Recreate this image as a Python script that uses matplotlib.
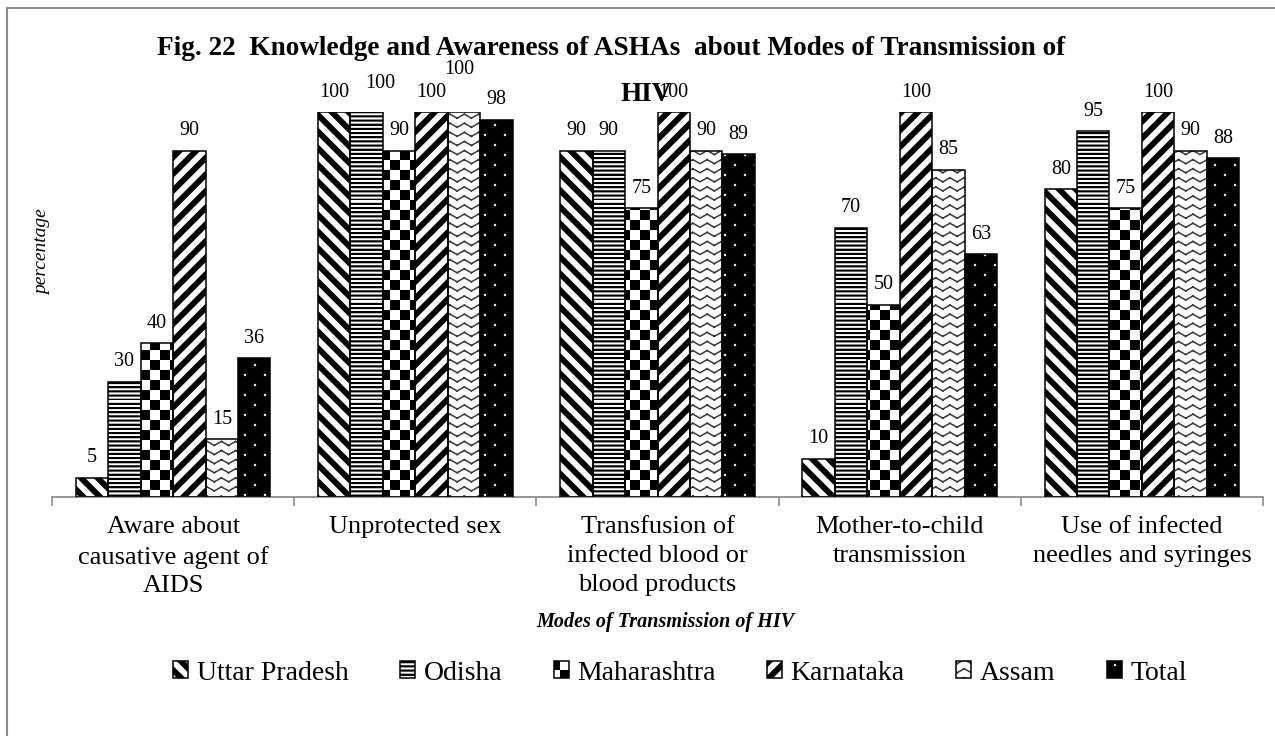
import warnings
import numpy as np
import matplotlib
matplotlib.use("Agg")
import matplotlib.pyplot as plt
import matplotlib.hatch as mhatch
from matplotlib.path import Path
from matplotlib.lines import Line2D
from matplotlib.legend_handler import HandlerTuple

warnings.filterwarnings("ignore")

# ---------------- data ----------------
categories = ["Aware about\ncausative agent of\nAIDS",
              "Unprotected sex",
              "Transfusion of\ninfected blood or\nblood products",
              "Mother-to-child\ntransmission",
              "Use of infected\nneedles and syringes"]
states = ["Uttar Pradesh", "Odisha", "Maharashtra", "Karnataka", "Assam", "Total"]
uttar_pradesh = [5, 100, 90, 10, 80]
odisha = [30, 100, 90, 70, 95]
maharashtra = [40, 90, 75, 50, 75]
karnataka = [90, 100, 100, 100, 100]
assam = [15, 100, 90, 85, 90]
total = [36, 98, 89, 63, 88]
series = [uttar_pradesh, odisha, maharashtra, karnataka, assam, total]

title_line1 = "Fig. 22  Knowledge and Awareness of ASHAs  about Modes of Transmission of"
title_line2 = "HIV"
xlabel = "Modes of Transmission of HIV"
ylabel = "percentage"

# ---------------- custom hatch patterns ----------------
DPI = 100
HLW = 1.1
plt.rcParams["hatch.linewidth"] = HLW
_half = HLW * DPI / 72.0 / 2.0 / DPI  # half stroke width in hatch-cell units


class _ShapeHatch(mhatch.HatchPatternBase):
    char = "?"

    def __init__(self, hatch, density):
        self.items = self.build() if (hatch and self.char in hatch) else []
        self.num_vertices = sum(len(p) + (1 if closed else 0) for p, closed in self.items)

    def build(self):
        return []

    def set_vertices_and_codes(self, vertices, codes):
        i = 0
        for pts, closed in self.items:
            k = len(pts)
            vertices[i:i + k] = pts
            codes[i] = Path.MOVETO
            codes[i + 1:i + k] = Path.LINETO
            i += k
            if closed:
                vertices[i] = pts[0]
                codes[i] = Path.CLOSEPOLY
                i += 1


class ThickNE(_ShapeHatch):          # '/' thick stripes
    char = "d"
    n = 6

    def build(self):
        t = 0.5 / self.n - 2 * _half * 1.41
        out = []
        for k in range(-self.n - 2, self.n + 2):
            c0 = k / self.n
            c1 = c0 + t
            x0, x1 = -0.1, 1.1
            out.append((np.array([[x0, x0 + c0], [x1, x1 + c0], [x1, x1 + c1], [x0, x0 + c1]]), True))
        return out


class ThickSE(_ShapeHatch):          # '\' thick stripes
    char = "D"
    n = 6

    def build(self):
        t = 0.5 / self.n - 2 * _half * 1.41
        out = []
        for k in range(-self.n - 2, 2 * self.n + 3):
            c0 = k / self.n
            c1 = c0 + t
            x0, x1 = -0.1, 1.1
            out.append((np.array([[x0, -x0 + c0], [x1, -x1 + c0], [x1, -x1 + c1], [x0, -x0 + c1]]), True))
        return out


class HStripes(_ShapeHatch):
    char = "h"
    n = 24

    def build(self):
        t = max(0.5 / self.n - 2 * _half, 0.002)
        out = []
        for k in range(self.n):
            y0 = k / self.n
            out.append((np.array([[-0.1, y0], [1.1, y0], [1.1, y0 + t], [-0.1, y0 + t]]), True))
        return out


class Checker(_ShapeHatch):
    char = "c"
    n = 5

    def build(self):
        h = 0.5 / self.n
        e = _half
        out = []
        for i in range(self.n):
            for j in range(self.n):
                for ox, oy in ((0, 0), (h, h)):
                    x0 = i / self.n + ox + e
                    y0 = j / self.n + oy + e
                    x1 = x0 + h - 2 * e
                    y1 = y0 + h - 2 * e
                    out.append((np.array([[x0, y0], [x1, y0], [x1, y1], [x0, y1]]), True))
        return out


class ZigZag(_ShapeHatch):
    char = "z"
    rows = 11
    teeth = 7
    amp = 0.04

    def build(self):
        out = []
        xs = np.arange(2 * self.teeth + 1) / (2.0 * self.teeth)
        for r in range(-1, self.rows + 1):
            y = r / self.rows
            ys = y + np.where(np.arange(len(xs)) % 2 == 1, self.amp, 0.0)
            for k in range(len(xs) - 1):
                out.append((np.array([[xs[k], ys[k]], [xs[k + 1], ys[k + 1]]]), False))
        return out


class Dots(_ShapeHatch):
    char = "p"
    n = 5
    r = 0.005

    def build(self):
        out = []
        ang = np.linspace(0, 2 * np.pi, 9)[:-1]
        for row in range(2 * self.n):
            y = (row + 0.5) / (2 * self.n)
            for c in range(self.n):
                x = (c + 0.25 + 0.5 * (row % 2)) / self.n
                out.append((np.column_stack([x + self.r * np.cos(ang), y + self.r * np.sin(ang)]), True))
        return out


for _cls in (ThickNE, ThickSE, HStripes, Checker, ZigZag, Dots):
    mhatch._hatch_types.append(_cls)

# ---------------- styles ----------------
SERIF = ["Liberation Serif", "DejaVu Serif"]
plt.rcParams["font.family"] = SERIF

styles = [
    dict(hatch="D", face="white", hcolor="black"),
    dict(hatch="h", face="white", hcolor="black"),
    dict(hatch="c", face="white", hcolor="black"),
    dict(hatch="d", face="white", hcolor="black"),
    dict(hatch="z", face="white", hcolor="#3a3a3a"),
    dict(hatch="p", face="black", hcolor="#e8e8e8"),
]
# label nudges (series index, category index) -> (dx, dy) in points
label_nudge = {(1, 1): (10, 6.5), (4, 1): (-3.5, 16)}

W, H = 1275, 736
fig = plt.figure(figsize=(W / DPI, H / DPI), dpi=DPI)
ax = fig.add_axes([52 / W, 1 - 497 / H, (1263 - 52) / W, (497 - 112) / H])

x = np.arange(len(categories))
bw = 0.134
left_gap = (1 - len(series) * bw) / 2

handles = []
for j, (vals, st) in enumerate(zip(series, styles)):
    cx = x - 0.5 + left_gap + bw * (j + 0.5)
    b1 = ax.bar(cx, vals, bw, color=st["face"], edgecolor=st["hcolor"],
                hatch=st["hatch"], linewidth=0, zorder=2)
    b2 = ax.bar(cx, vals, bw, fill=False, edgecolor="black", linewidth=1.1, zorder=3)
    handles.append((b1.patches[0], b2.patches[0]))
    for i, v in enumerate(vals):
        dx, dy = label_nudge.get((j, i), (0, 0))
        ax.annotate(str(v), (cx[i], v), xytext=(dx, 11 + dy), textcoords="offset points",
                    ha="center", va="baseline", fontsize=14.5, zorder=4)

ax.set_xlim(-0.5, len(categories) - 0.5)
ax.set_ylim(0, 100)
ax.set_yticks([])
for s in ("left", "right", "top"):
    ax.spines[s].set_visible(False)
ax.spines["bottom"].set_color("#8c8c8c")
ax.spines["bottom"].set_linewidth(1.3)
ax.set_xticks(np.arange(len(categories) + 1) - 0.5)
ax.set_xticklabels([])
ax.tick_params(axis="x", which="major", length=6.5, width=1.2, color="#8c8c8c", direction="out")
ax.set_xticks(x, minor=True)
ax.set_xticklabels(categories, minor=True, fontsize=19, linespacing=1.4)
ax.tick_params(axis="x", which="minor", length=0, pad=14)
ax.set_facecolor("none")

fig.text(43 / W, 1 - 252 / H, ylabel, rotation=90, style="italic", fontsize=14,
         ha="center", va="center")
fig.text(665 / W, 1 - 622 / H, xlabel, style="italic", weight="bold", fontsize=14.5,
         ha="center", va="center")
fig.text(611 / W, 1 - 55 / H, title_line1, weight="bold", fontsize=19.6,
         ha="center", va="baseline", zorder=5)
fig.text(646 / W, 1 - 101 / H, title_line2, weight="bold", fontsize=19.6,
         ha="center", va="baseline", zorder=5)

fig.legend(handles, states, loc="center", bbox_to_anchor=(680 / W, 1 - 673 / H), ncol=6,
           frameon=False, fontsize=20, handlelength=0.55, handleheight=0.55,
           handletextpad=0.3, columnspacing=1.85, borderpad=0, borderaxespad=0,
           handler_map={tuple: HandlerTuple(ndivide=1, pad=0)})

# figure border (left and top visible)
fig.add_artist(Line2D([7 / W, 7 / W], [0, 1 - 8 / H], transform=fig.transFigure,
                      color="#8c8c8c", linewidth=1.5))
fig.add_artist(Line2D([7 / W, 1], [1 - 8 / H, 1 - 8 / H], transform=fig.transFigure,
                      color="#8c8c8c", linewidth=1.5))

fig.savefig("out.png", dpi=DPI)
